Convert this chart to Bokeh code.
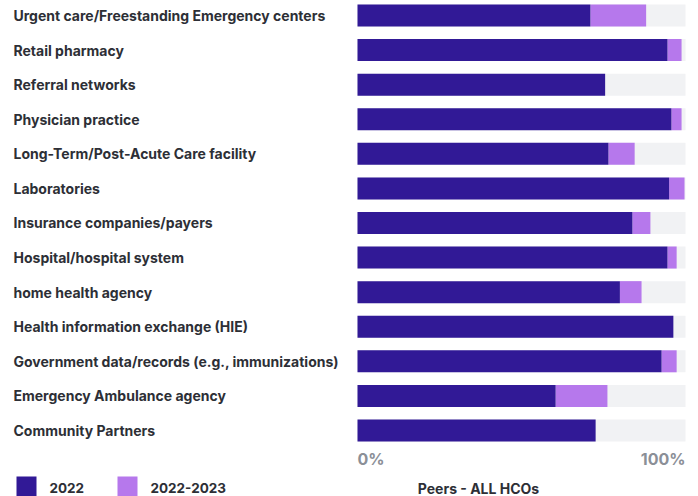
from bokeh.plotting import figure
from bokeh.models import Range1d, ColumnDataSource
from bokeh.core.properties import value
from bokeh.embed import file_html
from bokeh.resources import INLINE

categories = [
    "Urgent care/Freestanding Emergency centers",
    "Retail pharmacy",
    "Referral networks",
    "Physician practice",
    "Long-Term/Post-Acute Care facility",
    "Laboratories",
    "Insurance companies/payers",
    "Hospital/hospital system",
    "home health agency",
    "Health information exchange (HIE)",
    "Government data/records (e.g., immunizations)",
    "Emergency Ambulance agency",
    "Community Partners",
]
v2022 = [71, 94.5, 75.5, 95.7, 76.5, 95, 83.8, 94.5, 80, 96.3, 92.7, 60.4, 72.6]
v2022_2023 = [88, 98.8, 75.5, 98.8, 84.5, 99.7, 89.3, 97.3, 86.6, 96.3, 97.3, 76.2, 72.6]
tick_labels = ["0%", "100%"]
series_names = ["2022", "2022-2023"]
axis_title = "Peers - ALL HCOs"

DARK = "#311996"
LIGHT = "#b678ec"
TRACK = "#f1f2f4"
TEXT = "#2d2f36"
FONT = value("Inter")

W, H = 698, 496
px_per_unit = 3.28
x0_px = 357
row0_px = 15.0
row_step = 34.58

p = figure(width=W, height=H, output_backend="svg", toolbar_location=None,
           x_axis_type=None, y_axis_type=None, min_border=0,
           x_range=Range1d(-x0_px / px_per_unit, (W - x0_px) / px_per_unit),
           y_range=Range1d((H - row0_px) / row_step, -row0_px / row_step))
p.outline_line_color = None
p.grid.visible = False
p.background_fill_color = "white"
p.border_fill_color = "white"

idx = list(range(len(categories)))
src = ColumnDataSource(dict(y=idx, cat=categories, a=v2022, b=v2022_2023,
                            full=[100] * len(idx), lx=[-x0_px / px_per_unit + 13 / px_per_unit] * len(idx)))

bh = 22 / row_step
p.hbar(y="y", left=0, right="full", height=bh, source=src, fill_color=TRACK, line_color=None)
p.hbar(y="y", left="a", right="b", height=bh, source=src, fill_color=LIGHT, line_color=None)
p.hbar(y="y", left=0, right="a", height=bh, source=src, fill_color=DARK, line_color=None)

p.text(x="lx", y="y", text="cat", source=src, text_font=FONT, text_font_style="bold",
       text_font_size="14px", text_color=TEXT, text_baseline="middle", text_align="left")

# tick labels
ty = (458 - row0_px) / row_step
p.text(x=[0], y=[ty], text=[tick_labels[0]], text_font=FONT, text_font_style="bold",
       text_font_size="16px", text_color="#8b8f97", text_baseline="middle", text_align="left")
p.text(x=[100], y=[ty], text=[tick_labels[1]], text_font=FONT, text_font_style="bold",
       text_font_size="16px", text_color="#8b8f97", text_baseline="middle", text_align="right")

# axis title
at_y = (488 - row0_px) / row_step
p.text(x=[(478 - x0_px) / px_per_unit], y=[at_y], text=[axis_title], text_font=FONT,
       text_font_style="bold", text_font_size="14px", text_color=TEXT,
       text_baseline="middle", text_align="center")

# legend
ly = (487 - row0_px) / row_step
def px2x(px):
    return (px - x0_px) / px_per_unit
p.rect(x=[px2x(26), px2x(127)], y=[ly, ly], width=20, height=22, width_units="screen",
       height_units="screen", fill_color=[DARK, LIGHT], line_color=None)
p.text(x=[px2x(49), px2x(150)], y=[ly, ly], text=series_names, text_font=FONT,
       text_font_style="bold", text_font_size="13.5px", text_color=TEXT,
       text_baseline="middle", text_align="left")

open("out.html", "w").write(file_html(p, INLINE))
